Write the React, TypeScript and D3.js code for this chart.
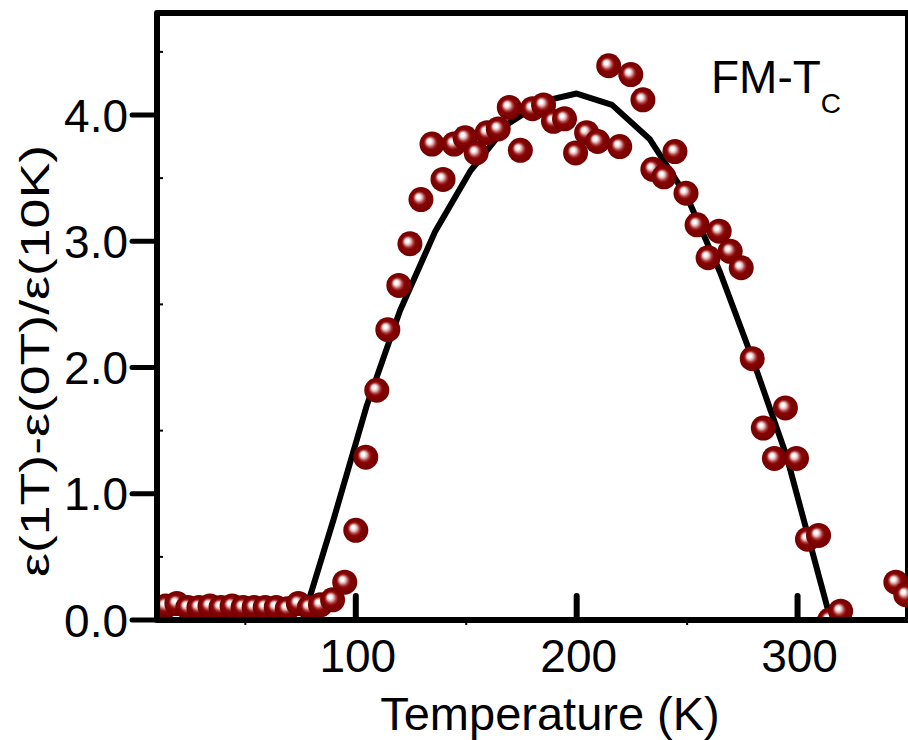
import React from "react";
import * as d3 from "d3";

// measured points: temperature (K) and relative magnetodielectric change
const tempK = [14, 19, 24, 29, 34, 39, 44, 49, 54, 59, 64, 69, 74, 79, 84, 89.5, 95, 100,
  104.5, 109.5, 114.5, 119.5, 124.5, 129.5, 134.5, 139.5, 144.5, 149.5, 154.5, 159.5, 164.5, 169.5, 174.5,
  180, 185, 189.5, 194.5, 199.5, 204.5, 209.5, 214.5, 219.5, 224.5, 230,
  234.5, 239.5, 244.5, 249.5, 254.5, 259.5, 264.5, 269.5, 274.5, 279.5, 284.5, 289.5, 294.5, 299.5,
  304.5, 309.5, 314.5, 319.5, 344.5, 349];
const deltaEps = [0.11, 0.13, 0.10, 0.10, 0.11, 0.10, 0.11, 0.10, 0.10, 0.10, 0.10, 0.09, 0.13, 0.10, 0.12, 0.16, 0.30, 0.71,
  1.29, 1.82, 2.30, 2.65, 2.98, 3.33, 3.77, 3.49, 3.77, 3.82, 3.70, 3.86, 3.89, 4.06, 3.72,
  4.05, 4.08, 3.95, 3.97, 3.70, 3.86, 3.79, 4.39, 3.75, 4.32, 4.12,
  3.57, 3.51, 3.71, 3.38, 3.13, 2.87, 3.08, 2.92, 2.79, 2.07, 1.52, 1.28, 1.68, 1.28,
  0.64, 0.67, 0.0, 0.07, 0.30, 0.20];

// guide curve (black line)
const fitT = [76, 90, 105, 120, 136, 152, 169, 185, 200, 216, 233, 250, 265, 280, 295, 315];
const fitV = [0, 0.8, 1.7, 2.45, 3.08, 3.56, 3.93, 4.11, 4.17, 4.08, 3.81, 3.35, 2.75, 2.05, 1.3, 0];

const xMajor = [100, 200, 300];
const xMinor = [50, 150, 250];
const yMajor = [0, 1, 2, 3, 4];
const yMinor = [0.5, 1.5, 2.5, 3.5, 4.5];

const font = "'Liberation Sans', Arial, Helvetica, sans-serif";

export default function App() {
  const left = 157, right = 908, top = 13, bottom = 620;
  const x = d3.scaleLinear().domain([10, 350]).range([left, right]);
  const y = d3.scaleLinear().domain([0, 4.8]).range([bottom, 14]);

  const line = d3.line<number>()
    .x((d, i) => x(fitT[i]))
    .y(d => y(d));

  return (
    <svg width={908} height={740} style={{position: "absolute", left: 0, top: 0}} fontFamily={font}>
      <defs>
        <radialGradient id="ball" cx="0.5" cy="0.5" r="0.5" fx="0.38" fy="0.37">
          <stop offset="0" stopColor="#ffffff"/>
          <stop offset="0.13" stopColor="#ffffff"/>
          <stop offset="0.28" stopColor="#e2b2b2"/>
          <stop offset="0.42" stopColor="#ad4040"/>
          <stop offset="0.56" stopColor="#880404"/>
          <stop offset="1" stopColor="#720000"/>
        </radialGradient>
        <clipPath id="plot">
          <rect x={160} y={0} width={760} height={617}/>
        </clipPath>
        <clipPath id="lineclip">
          <rect x={left} y={top} width={right - left} height={bottom - top}/>
        </clipPath>
      </defs>

      <path d={line(fitV) || ""} fill="none" stroke="#000" strokeWidth={6}
        strokeLinejoin="round" clipPath="url(#lineclip)"/>

      <rect x={left} y={top} width={right - left} height={bottom - top}
        fill="none" stroke="#000" strokeWidth={6} strokeLinejoin="round"/>

      {yMajor.map(v => (
        <g key={"y" + v}>
          <line x1={left - 25} x2={left} y1={y(v)} y2={y(v)} stroke="#000" strokeWidth={5} strokeLinecap="round"/>
          <text x={128} y={y(v)} dy="0.36em" textAnchor="end" fontSize={46}>{v.toFixed(1)}</text>
        </g>
      ))}
      {yMinor.map(v => (
        <line key={"ym" + v} x1={left} x2={left + 6} y1={y(v)} y2={y(v)} stroke="#000" strokeWidth={2}/>
      ))}
      {xMajor.map(v => (
        <g key={"x" + v}>
          <line x1={x(v)} x2={x(v)} y1={bottom} y2={bottom - 24} stroke="#000" strokeWidth={6} strokeLinecap="round"/>
          <text x={x(v) + 2} y={672} textAnchor="middle" fontSize={46}>{v}</text>
        </g>
      ))}
      {xMinor.map(v => (
        <line key={"xm" + v} x1={x(v)} x2={x(v)} y1={bottom} y2={bottom + 5} stroke="#000" strokeWidth={2}/>
      ))}

      <g clipPath="url(#plot)">
        {tempK.map((t, i) => (
          <circle key={i} cx={x(t)} cy={y(deltaEps[i])} r={12.5} fill="url(#ball)"/>
        ))}
      </g>

      <text x={550} y={730} textAnchor="middle" fontSize={47}>Temperature (K)</text>
      <text transform="translate(49,361) rotate(-90)" textAnchor="middle" fontSize={40}
        textLength={432} lengthAdjust="spacingAndGlyphs">ε(1T)-ε(0T)/ε(10K)</text>

      <text x={711} y={93} fontSize={46}>FM-T<tspan fontSize={28} dy={20}>C</tspan></text>
    </svg>
  );
}
